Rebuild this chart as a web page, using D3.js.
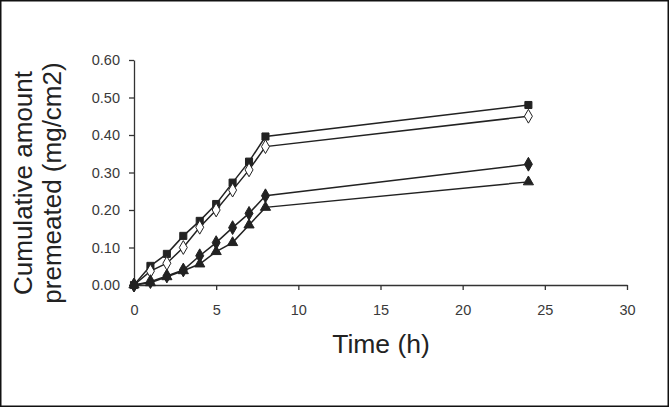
<!DOCTYPE html>
<html><head><meta charset="utf-8">
<script src="https://cdn.jsdelivr.net/npm/d3@7"></script>
<style>
body{margin:0;background:#fff;}
svg{display:block;font-family:"Liberation Sans",Arial,sans-serif;}
</style></head>
<body><svg id="c" width="669" height="407"></svg>
<script>
const time = [0, 1, 2, 3, 4, 5, 6, 7, 8, 24];
const seriesSquare = [0, 0.051, 0.083, 0.131, 0.171, 0.216, 0.273, 0.329, 0.396, 0.48];
const seriesOpenDiamond = [0, 0.037, 0.058, 0.100, 0.154, 0.200, 0.253, 0.307, 0.369, 0.45];
const seriesDiamond = [0, 0.009, 0.024, 0.040, 0.078, 0.113, 0.153, 0.191, 0.238, 0.322];
const seriesTriangle = [0, 0.006, 0.022, 0.038, 0.056, 0.089, 0.113, 0.160, 0.207, 0.275];
const xTicks = [0, 5, 10, 15, 20, 25, 30];
const yTicks = [0, 0.1, 0.2, 0.3, 0.4, 0.5, 0.6];

const svg = d3.select("#c");
const col = "#222";
svg.append("rect").attr("x",0.75).attr("y",0.75).attr("width",667.5).attr("height",405.5)
  .attr("fill","none").attr("stroke","#111").attr("stroke-width",1.5);

const x = d3.scaleLinear().domain([0,30]).range([134,627]);
const y = d3.scaleLinear().domain([0,0.6]).range([285,60]);

const xAxis = svg.append("g").attr("transform","translate(0,285)")
  .call(d3.axisBottom(x).tickValues(xTicks).tickSize(5).tickSizeOuter(0).tickPadding(15));
const yAxis = svg.append("g").attr("transform","translate(134,0)")
  .call(d3.axisLeft(y).tickValues(yTicks).tickSize(5).tickSizeOuter(0).tickPadding(9).tickFormat(d3.format(".2f")));
[xAxis,yAxis].forEach(g=>{
  g.select(".domain").attr("stroke","#333").attr("stroke-width",1.3);
  g.selectAll(".tick line").attr("stroke","#333").attr("stroke-width",1.3);
  g.selectAll(".tick text").attr("fill","#3a3a3a").attr("font-size",14.5).attr("font-family","Liberation Sans, Arial, sans-serif");
});

const series = [
  {v: seriesSquare, m:"square", fill:col},
  {v: seriesOpenDiamond, m:"diamond", fill:"#fff"},
  {v: seriesDiamond, m:"diamond", fill:col},
  {v: seriesTriangle, m:"triangle", fill:col}
];
const line = d3.line().x((d,i)=>x(time[i])).y(d=>y(d));
series.forEach(s=>{
  svg.append("path").attr("d", line(s.v)).attr("fill","none").attr("stroke",col).attr("stroke-width",1.5);
});
series.forEach(s=>{
  const sym = s.m==="square" ? d3.symbolSquare : s.m==="diamond" ? d3.symbolDiamond : d3.symbolTriangle;
  const size = s.m==="square" ? 50 : s.m==="diamond" ? 55 : 45;
  svg.append("g").selectAll("path").data(s.v).join("path")
    .attr("d", d3.symbol().type(sym).size(size))
    .attr("transform",(d,i)=>`translate(${x(time[i])},${y(d)})`)
    .attr("fill",s.fill).attr("stroke",col).attr("stroke-width",1);
});

svg.append("text").attr("x",381).attr("y",353).attr("text-anchor","middle")
  .attr("font-size",26.5).attr("fill","#222").text("Time (h)");
const yl = svg.append("text").attr("transform","translate(0,183) rotate(-90)").attr("text-anchor","middle")
  .attr("font-size",26).attr("fill","#222");
yl.append("tspan").attr("x",0).attr("y",32).text("Cumulative amount");
yl.append("tspan").attr("x",0).attr("y",61).text("premeated (mg/cm2)");
</script></body></html>
